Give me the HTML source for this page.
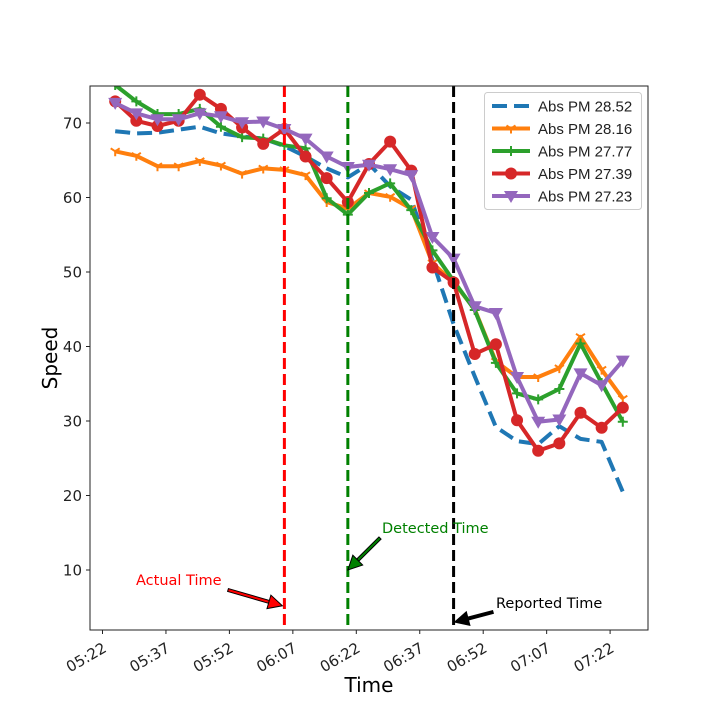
<!DOCTYPE html>
<html><head><meta charset="utf-8"><style>
html,body{margin:0;padding:0;background:#fff;}
svg{display:block;font-family:"DejaVu Sans","Liberation Sans",sans-serif;}
</style></head><body>
<svg id="chart" width="720" height="720" viewBox="0 0 720 720">
<defs>
<clipPath id="plotclip"><rect x="90" y="86" width="558" height="544"/></clipPath>
</defs>
<g id="grid"></g>
<g id="series" clip-path="url(#plotclip)"></g>
<rect x="90" y="86" width="558" height="544" fill="none" stroke="#222" stroke-width="1"/>
<g id="axes"></g>
<g id="annot"></g>
<g id="legend"></g>
</svg>
<script>
const times = ["05:25","05:30","05:35","05:40","05:45","05:50","05:55","06:00","06:05","06:10","06:15","06:20","06:25","06:30","06:35","06:40","06:45","06:50","06:55","07:00","07:05","07:10","07:15","07:20","07:25"];
const seriesNames = ["Abs PM 28.52","Abs PM 28.16","Abs PM 27.77","Abs PM 27.39","Abs PM 27.23"];
const blueVals = [68.9,68.6,68.7,69.1,69.5,68.6,68.2,67.9,66.9,65.5,63.9,62.7,64.5,61.5,59.7,51.6,43.0,36.0,29.2,27.3,26.9,29.3,27.6,27.2,20.5];
const orangeVals = [66.2,65.6,64.2,64.2,64.9,64.3,63.2,63.9,63.7,63.0,59.4,58.5,60.6,60.1,58.5,51.2,48.6,45.0,38.0,35.9,35.9,37.1,41.3,36.9,33.0];
const greenVals = [75.1,72.9,71.2,71.2,71.9,69.5,68.1,67.9,67.0,66.6,59.9,57.7,60.6,61.9,58.3,52.9,48.8,44.9,37.8,33.7,32.9,34.3,40.4,35.1,29.9];
const redVals = [72.9,70.3,69.6,70.3,73.8,71.9,69.4,67.2,69.2,65.5,62.6,59.4,64.5,67.5,63.6,50.6,48.6,39.0,40.3,30.1,26.0,27.0,31.1,29.1,31.8];
const purpleVals = [72.7,71.3,70.5,70.5,71.3,70.9,70.1,70.2,69.2,67.9,65.5,64.1,64.4,63.8,63.0,54.7,51.8,45.4,44.5,35.9,29.9,30.2,36.4,34.8,38.1];
const yTicks = [10,20,30,40,50,60,70];
const xTickLabels = ["05:22","05:37","05:52","06:07","06:22","06:37","06:52","07:07","07:22"];
const eventTimes = ["06:05","06:20","06:45"];

const NS="http://www.w3.org/2000/svg";
function mins(t){const p=t.split(":");return +p[0]*60+ +p[1];}
function xs(t){return 102.5+(mins(t)-322)*4.23;}
function ys(v){return 570-(v-10)*7.45;}
function mk(tag,attrs,parent){const e=document.createElementNS(NS,tag);for(const k in attrs)e.setAttribute(k,attrs[k]);parent.appendChild(e);return e;}

const axes=document.getElementById('axes');
yTicks.forEach(v=>{
  const y=ys(v);
  const t=mk('line',{x1:86,y1:y,x2:90,y2:y,stroke:'#222'},axes);
  
  
  const l=mk('text',{x:82,y:y+5.5,'text-anchor':'end','font-size':15,fill:'#222'},axes);
  l.textContent=v;
  
  
});
xTickLabels.forEach(lbl=>{
  const x=xs(lbl);
  const t=mk('line',{x1:x,y1:630,x2:x,y2:634,stroke:'#222'},axes);
  
  
  const l=mk('text',{x:x+5,y:651,'text-anchor':'end','font-size':15,fill:'#222',transform:'rotate(-30 '+(x+5)+' 651)'},axes);
  l.textContent=lbl;
  
  
});
const xt=mk('text',{x:369,y:692,'text-anchor':'middle','font-size':20,fill:'#000'},axes);
xt.textContent='Time';


const yt=mk('text',{x:57,y:358,'text-anchor':'middle','font-size':20,fill:'#000',transform:'rotate(-90 57 358)'},axes);
yt.textContent='Speed';



const ser=document.getElementById('series');
const colors=['#1f77b4','#ff7f0e','#2ca02c','#d62728','#9467bd'];
const all=[blueVals,orangeVals,greenVals,redVals,purpleVals];
const markers=['none','tri','plus','circle','tridown'];
function drawMarker(type,x,y,c,g){
  let m=null;
  if(type==='circle') m=mk('circle',{cx:x,cy:y,r:6,fill:c},g);
  else if(type==='tridown') m=mk('polygon',{points:(x-7)+','+(y-5)+' '+(x+7)+','+(y-5)+' '+x+','+(y+7),fill:c},g);
  else if(type==='plus') m=mk('path',{d:'M'+(x-5)+' '+y+'H'+(x+5)+'M'+x+' '+(y-5)+'V'+(y+5),stroke:c,'stroke-width':2},g);
  else if(type==='tri') m=mk('path',{d:'M'+x+' '+y+'V'+(y+5)+'M'+x+' '+y+'L'+(x-4.5)+' '+(y-3)+'M'+x+' '+y+'L'+(x+4.5)+' '+(y-3),stroke:c,'stroke-width':2},g);
  return m;
}
all.forEach((vals,si)=>{
  const g=mk('g',{},ser);
  
  
  const pts=vals.map((v,i)=>xs(times[i]).toFixed(1)+','+ys(v).toFixed(1)).join(' ');
  const pl=mk('polyline',{points:pts,fill:'none',stroke:colors[si],'stroke-width':4,'stroke-linejoin':'round'},g);
  if(si===0) pl.setAttribute('stroke-dasharray','15,7');
  
  
  if(markers[si]!=='none') vals.forEach((v,i)=>{
    const m=drawMarker(markers[si],xs(times[i]),ys(v),colors[si],g);
    
    
  });
});
const evColors=['#ff0000','#008000','#000000'];
const evNames=['actual-time-line','detected-time-line','reported-time-line'];
eventTimes.forEach((t,i)=>{
  const x=xs(t);
  const l=mk('line',{x1:x,y1:86,x2:x,y2:630,stroke:evColors[i],'stroke-width':3,'stroke-dasharray':'11,5'},ser);
  
  
});
const an=document.getElementById('annot');
function arrow(x1,y1,x2,y2,c,name){
  const ang=Math.atan2(y2-y1,x2-x1),L=14,W=7;
  const bx=x2-L*Math.cos(ang),by=y2-L*Math.sin(ang);
  const px=-Math.sin(ang),py=Math.cos(ang);
  const g=mk('g',{},an);
  
  
  mk('path',{d:'M'+(x1+px*1.5)+' '+(y1+py*1.5)+'L'+(bx+px*1.5)+' '+(by+py*1.5)+'L'+(bx-px*1.5)+' '+(by-py*1.5)+'L'+(x1-px*1.5)+' '+(y1-py*1.5)+'Z',fill:c,stroke:'#000','stroke-width':1},g);
  mk('polygon',{points:(bx+px*W)+','+(by+py*W)+' '+x2+','+y2+' '+(bx-px*W)+','+(by-py*W),fill:c,stroke:'#000','stroke-width':1},g);
}
const ax0=xs(eventTimes[0]),ax1=xs(eventTimes[1]),ax2=xs(eventTimes[2]);
arrow(228,590,ax0-2,ys(5.2),'#ff0000','actual-time-arrow');
arrow(380,538,ax1,ys(10),'#008000','detected-time-arrow');
arrow(493,612,ax2+1,ys(3),'#000000','reported-time-arrow');
[['Actual Time',136,585,'#ff0000','actual-time-label'],['Detected Time',382,533,'#008000','detected-time-label'],['Reported Time',496,608,'#000','reported-time-label']].forEach(a=>{
  const t=mk('text',{x:a[1],y:a[2],'font-size':14.5,fill:a[3]},an);
  t.textContent=a[0];
  
  
});
const lg=document.getElementById('legend');


mk('rect',{x:484.5,y:92.5,width:157,height:117,rx:3,fill:'#fff','fill-opacity':0.85,stroke:'#ccc'},lg);
seriesNames.forEach((n,i)=>{
  const y=106+i*22.5;
  const g=mk('g',{},lg);
  
  
  const l=mk('line',{x1:492,y1:y,x2:530,y2:y,stroke:colors[i],'stroke-width':4},g);
  if(i===0) l.setAttribute('stroke-dasharray','15,7');
  if(markers[i]!=='none') drawMarker(markers[i],511,y,colors[i],g);
  const t=mk('text',{x:538,y:y+5.5,'font-size':15,fill:'#222','font-family':'"Liberation Sans",sans-serif'},g);
  t.textContent=n;
});
</script>
</body></html>
